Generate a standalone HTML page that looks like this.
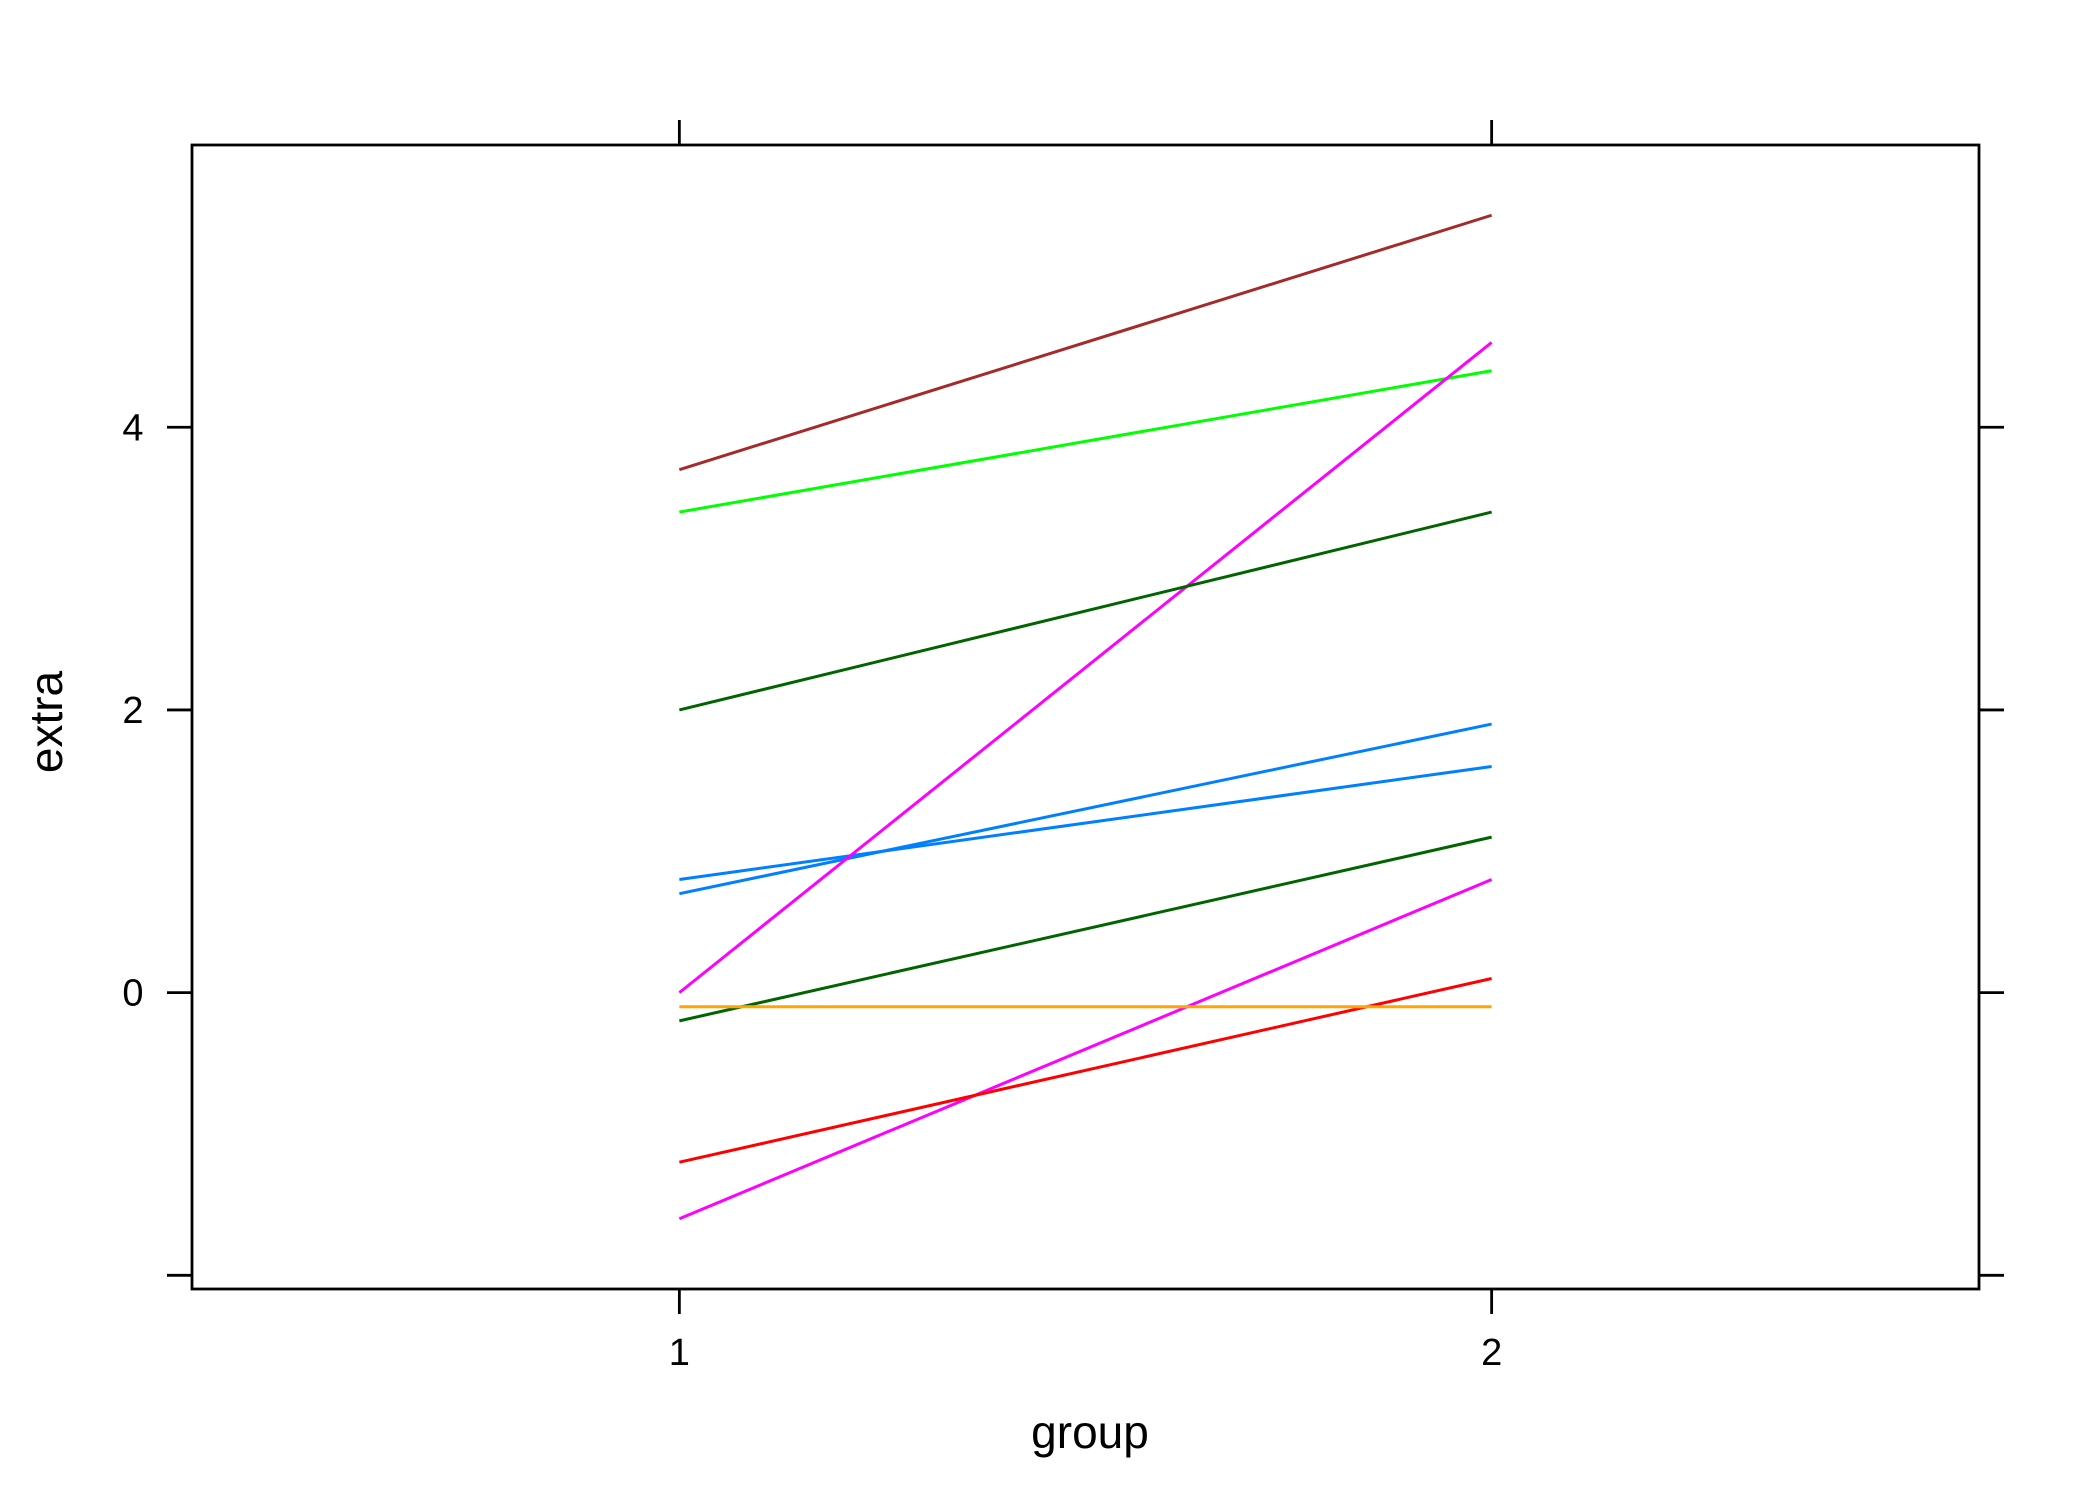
<!DOCTYPE html>
<html><head><meta charset="utf-8"><style>
html,body{margin:0;padding:0;background:#fff;}
svg{display:block;font-family:"Liberation Sans",Arial,sans-serif;}
</style></head><body>
<svg id="chart" width="2100" height="1500" viewBox="0 0 2100 1500">
<rect x="0" y="0" width="2100" height="1500" fill="#fff"/>
<g id="lines"></g>
<g id="axes"></g>
<text x="1090" y="1448" font-size="46" text-anchor="middle" fill="#000">group</text>
<text x="0" y="0" font-size="46" text-anchor="middle" fill="#000" transform="translate(62,722) rotate(-90)">extra</text>
</svg>
<script>
const categories = [1, 2];
const group1 = [0.7, -1.6, -0.2, -1.2, -0.1, 3.4, 3.7, 0.8, 0.0, 2.0];
const group2 = [1.9, 0.8, 1.1, 0.1, -0.1, 4.4, 5.5, 1.6, 4.6, 3.4];
const colors = ["#0080ff","#ff00ff","#006400","#ff0000","#ffa500","#00ff00","#a52a2a","#0080ff","#ff00ff","#006400"];
const yTicks = [-2, 0, 2, 4];
const yTickLabels = ["", "0", "2", "4"];
const xTickLabels = ["1", "2"];

const L=192, R=1979, T=145, B=1289;
const xMin=0.4, xMax=2.6, yMin=-2.097, yMax=5.997;
const xs = v => L + (v - xMin) / (xMax - xMin) * (R - L);
const ys = v => B - (v - yMin) / (yMax - yMin) * (B - T);
const NS="http://www.w3.org/2000/svg";
const lg=document.getElementById('lines'), ax=document.getElementById('axes');
function mk(tag, attrs, parent){const e=document.createElementNS(NS,tag);for(const k in attrs)e.setAttribute(k,attrs[k]);parent.appendChild(e);return e;}

group1.forEach((v,i)=>{
  const l=mk('line',{x1:xs(categories[0]),y1:ys(v),x2:xs(categories[1]),y2:ys(group2[i]),stroke:colors[i],'stroke-width':3},lg);
  
  
});

const frame=mk('rect',{x:L,y:T,width:R-L,height:B-T,fill:'none',stroke:'#000','stroke-width':2.8},ax);



yTicks.forEach((t,i)=>{
  const y=ys(t);
  const a=mk('line',{x1:L-25,y1:y,x2:L,y2:y,stroke:'#000','stroke-width':2.8},ax);
  
  
  const b=mk('line',{x1:R,y1:y,x2:R+25,y2:y,stroke:'#000','stroke-width':2.8},ax);
  
  
  if(yTickLabels[i]){
    const tx=mk('text',{x:133,y:y+13,'font-size':38,'text-anchor':'middle',fill:'#000'},ax);
    tx.textContent=yTickLabels[i];
    
    
  }
});
categories.forEach((c,i)=>{
  const x=xs(c);
  const a=mk('line',{x1:x,y1:B,x2:x,y2:B+25,stroke:'#000','stroke-width':2.8},ax);
  
  
  const b=mk('line',{x1:x,y1:T-25,x2:x,y2:T,stroke:'#000','stroke-width':2.8},ax);
  
  
  const tx=mk('text',{x:x,y:1365,'font-size':38,'text-anchor':'middle',fill:'#000'},ax);
  tx.textContent=xTickLabels[i];
  
  
});
</script>
</body></html>
